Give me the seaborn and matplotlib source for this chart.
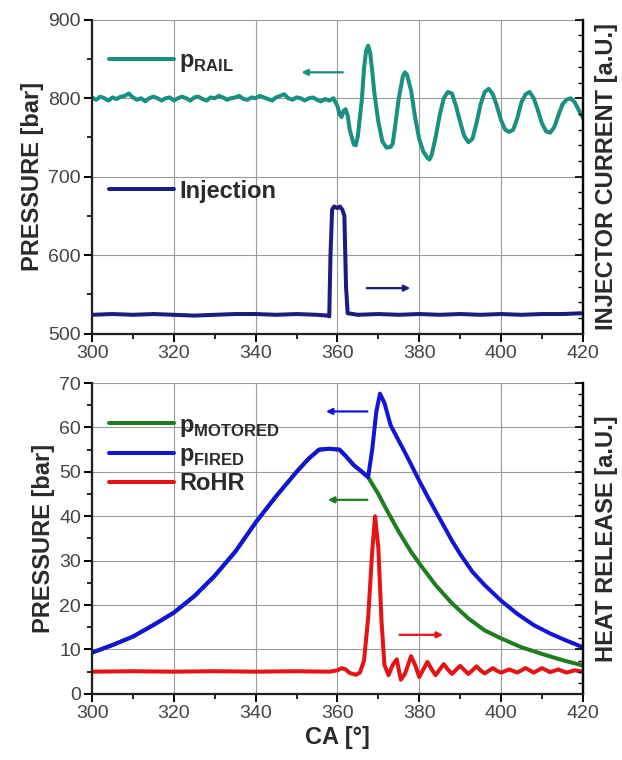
import numpy as np
import pandas as pd
import matplotlib
matplotlib.use("Agg")
import matplotlib.pyplot as plt
from matplotlib.ticker import MultipleLocator, NullFormatter
import seaborn as sns

# ---------------- data ----------------
rail_pre_ca = list(range(300, 359))
rail_pre_val = [801, 798, 802, 800, 797, 801, 799, 802, 803, 806, 801, 798, 800, 796, 800, 802,
                800, 797, 800, 801, 797, 800, 802, 800, 797, 801, 802, 799, 797, 801, 800, 803,
                801, 798, 800, 801, 803, 799, 798, 801, 800, 803, 801, 799, 797, 801, 803, 805,
                800, 798, 801, 800, 797, 800, 801, 798, 796, 799, 797]
rail_post_ca = [359, 360, 360.5, 361, 361.5, 362, 362.5, 363, 364, 364.5, 365, 366, 366.5, 367,
                367.5, 368, 368.5, 369, 370, 371, 372, 373, 373.5, 374, 375, 376, 376.5, 377,
                378, 379, 380, 381, 382, 382.5, 383, 384, 385, 386, 387, 388, 389, 390, 391,
                392, 393, 394, 395, 396, 397, 398, 399, 400, 401, 402, 403, 404, 405, 406,
                407, 408, 409, 410, 411, 412, 413, 414, 415, 416, 417, 418, 419, 420]
rail_post_val = [800, 790, 780, 776, 784, 786, 778, 760, 741, 740, 752, 800, 838, 860,
                 867, 858, 835, 808, 770, 745, 737, 738, 742, 760, 800, 828, 833, 830,
                 810, 775, 748, 732, 724, 722, 727, 750, 778, 800, 808, 806, 790, 770, 752,
                 744, 748, 768, 792, 808, 812, 805, 790, 772, 760, 757, 760, 775, 795, 805,
                 808, 800, 785, 768, 758, 756, 763, 778, 792, 798, 800, 795, 785, 775]
rail_ca = rail_pre_ca + rail_post_ca
rail_val = rail_pre_val + rail_post_val

inj_ca = [300, 305, 310, 315, 320, 325, 330, 335, 340, 345, 350, 355, 357.5, 358, 358.3,
          358.7, 359.2, 360, 360.6, 361.2, 361.7, 362.1, 362.5, 365, 370, 375, 380, 385,
          390, 395, 400, 405, 410, 415, 420]
inj_val = [524, 525, 524, 525, 524, 523, 524, 525, 525, 524, 525, 524, 523, 522, 600,
           658, 662, 660, 662, 658, 650, 560, 526, 524, 525, 524, 525, 524,
           525, 524, 525, 524, 525, 525, 526]

fired_ca = [300, 305, 310, 315, 320, 325, 330, 335, 340, 345, 350, 353, 355.5, 358, 360.5,
            362, 364, 366, 367.5, 368.5, 369.5, 370.4, 371.5, 373, 375, 377, 380, 382,
            385, 388, 390, 393, 396, 400, 404, 408, 412, 416, 420]
fired_val = [9.3, 11.0, 12.9, 15.5, 18.3, 22.0, 26.6, 32.0, 38.6, 44.5, 50.0, 53.0, 55.0, 55.2, 55.0,
             53.6, 51.5, 50.0, 48.8, 55.0, 63.5, 67.6, 65.5, 60.5, 57.0, 53.5, 48.0, 44.5,
             39.5, 34.5, 31.5, 27.5, 24.5, 21.0, 18.0, 15.5, 13.6, 12.0, 10.5]

motored_ca = [300, 305, 310, 315, 320, 325, 330, 335, 340, 345, 350, 353, 355.5, 358, 360.5,
              362, 364, 366, 367.5, 370, 372, 375, 378, 380, 384, 388, 392, 396, 400, 405,
              410, 415, 420]
motored_val = [9.3, 11.0, 12.9, 15.5, 18.3, 22.0, 26.6, 32.0, 38.6, 44.5, 50.0, 53.0, 55.0, 55.2, 55.0,
               53.6, 51.5, 50.0, 48.8, 45.0, 41.5, 36.5, 32.0, 29.4, 24.5, 20.4, 17.0, 14.3, 12.5,
               10.5, 9.0, 7.6, 6.4]

rohr_ca = [300, 310, 320, 330, 340, 350, 358, 360, 361, 362, 363, 364.5, 365.5, 366.5, 367.5,
           368.5, 369.2, 370, 370.8, 371.5, 372.5, 373.5, 374.5, 375.5, 376.5, 378, 379, 380,
           381, 382, 383, 384, 385, 386, 387, 388, 389, 390, 391, 392, 393, 394, 395, 396,
           397, 398, 399, 400, 402, 404, 406, 408, 410, 412, 414, 416, 418, 420]
rohr_val = [5.0, 5.1, 5.0, 5.1, 5.0, 5.1, 5.0, 5.3, 5.8, 5.5, 4.7, 4.3, 4.8, 7.5, 17.0,
            32.0, 40.0, 33.0, 16.0, 6.5, 4.2, 6.5, 7.8, 3.2, 4.5, 8.5, 6.5, 3.8,
            5.5, 7.2, 5.6, 4.2, 5.5, 6.7, 5.5, 4.5, 5.4, 6.3, 5.4, 4.5, 5.3, 6.2, 5.3, 4.6,
            5.2, 5.8, 5.2, 4.8, 5.5, 4.8, 5.8, 4.8, 5.8, 4.9, 5.5, 4.8, 5.3, 5.0]

x_ticks = [300, 320, 340, 360, 380, 400, 420]

# ---------------- style ----------------
sns.set_theme(style="white")
plt.rcParams['font.family'] = ['Liberation Sans', 'DejaVu Sans']
plt.rcParams['mathtext.fontset'] = 'custom'
plt.rcParams['mathtext.bf'] = 'Liberation Sans:bold'
plt.rcParams['mathtext.rm'] = 'Liberation Sans'

C_RAIL = "#1a9080"
C_INJ = "#1c1c7e"
C_MOT = "#1e7d1e"
C_FIRED = "#1414d6"
C_RED = "#e41414"
LW = 2.9
TICK_C = "#444444"
LAB_C = "#2a2a2a"
LAB_FS = 17
LEG_FS = 17
TICK_FS = 14

fig = plt.figure(figsize=(6.22, 7.60), dpi=100)
ax1 = fig.add_axes([0.148, 0.561, 0.789, 0.413])
ax2 = fig.add_axes([0.148, 0.087, 0.789, 0.409])


def style_axes(ax, ymaj, ymin):
    ax.set_xlim(300, 420)
    ax.set_xticks(x_ticks)
    ax.xaxis.set_minor_locator(MultipleLocator(10))
    ax.yaxis.set_major_locator(MultipleLocator(ymaj))
    ax.yaxis.set_minor_locator(MultipleLocator(ymin))
    ax.grid(True, which="major", color="#9a9a9a", linewidth=0.8)
    ax.set_axisbelow(True)
    for s in ["left", "bottom", "right"]:
        ax.spines[s].set_visible(True)
        ax.spines[s].set_color("black")
        ax.spines[s].set_linewidth(1.6)
    ax.spines["top"].set_visible(False)
    ax.tick_params(which="major", direction="out", length=6, width=1.4, color="black",
                   labelsize=TICK_FS, labelcolor=TICK_C, left=True, bottom=True, pad=2)
    ax.tick_params(which="minor", direction="out", length=3.5, width=1.2, color="black",
                   left=True, bottom=True)


def style_twin(tw, lo, hi, maj, mnr):
    tw.set_ylim(lo, hi)
    tw.yaxis.set_major_locator(MultipleLocator(maj))
    tw.yaxis.set_minor_locator(MultipleLocator(mnr))
    tw.yaxis.set_major_formatter(NullFormatter())
    tw.grid(False)
    tw.spines["top"].set_visible(False)
    tw.spines["right"].set_linewidth(1.6)
    tw.spines["right"].set_color("black")
    tw.tick_params(which="major", direction="in", length=6, width=1.2, color="black", right=True)
    tw.tick_params(which="minor", direction="in", length=3.5, width=1.0, color="black", right=True)


def leg(ax, anchor, spacing=0.5):
    lg = ax.legend(loc="upper left", bbox_to_anchor=anchor, frameon=False, handlelength=2.75,
                   handletextpad=0.25, labelspacing=spacing,
                   prop={"weight": "bold", "size": LEG_FS}, borderaxespad=0.3)
    for t in lg.get_texts():
        t.set_color(LAB_C)
    return lg


# ---------------- top panel ----------------
style_axes(ax1, 100, 50)
ax1.set_ylim(500, 900)
tw1 = ax1.twinx()
style_twin(tw1, 500, 900, 100, 20)

df_rail = pd.DataFrame({"CA": rail_ca, "p": rail_val})
df_inj = pd.DataFrame({"CA": inj_ca, "i": inj_val})
sns.lineplot(data=df_rail, x="CA", y="p", ax=ax1, color=C_RAIL, lw=LW, sort=False,
             label=r"$\mathbf{p}_{\mathbf{RAIL}}$")
sns.lineplot(data=df_inj, x="CA", y="i", ax=tw1, color=C_INJ, lw=LW, sort=False,
             label="Injection")

ax1.set_xlabel("")
ax1.set_ylabel("PRESSURE [bar]", fontsize=LAB_FS, fontweight="bold", color=LAB_C, labelpad=3)
tw1.set_ylabel("INJECTOR CURRENT [a.U.]", fontsize=LAB_FS, fontweight="bold", color=LAB_C, labelpad=5)

leg(ax1, (0.0, 0.96))
leg(tw1, (0.0, 0.543))

ax1.annotate("", xy=(350.5, 833), xytext=(362, 833),
             arrowprops=dict(arrowstyle="-|>", color=C_RAIL, lw=1.6, mutation_scale=9))
tw1.annotate("", xy=(378.5, 558), xytext=(366.5, 558),
             arrowprops=dict(arrowstyle="-|>", color=C_INJ, lw=1.6, mutation_scale=9))

# ---------------- bottom panel ----------------
style_axes(ax2, 10, 5)
ax2.set_ylim(0, 70)
tw2 = ax2.twinx()
style_twin(tw2, 0, 70, 10, 2.5)

df_mot = pd.DataFrame({"CA": motored_ca, "p": motored_val})
df_fired = pd.DataFrame({"CA": fired_ca, "p": fired_val})
df_rohr = pd.DataFrame({"CA": rohr_ca, "q": rohr_val})
sns.lineplot(data=df_mot, x="CA", y="p", ax=ax2, color=C_MOT, lw=LW, sort=False,
             label=r"$\mathbf{p}_{\mathbf{MOTORED}}$")
sns.lineplot(data=df_fired, x="CA", y="p", ax=ax2, color=C_FIRED, lw=LW, sort=False,
             label=r"$\mathbf{p}_{\mathbf{FIRED}}$")
sns.lineplot(data=df_rohr, x="CA", y="q", ax=ax2, color=C_RED, lw=LW, sort=False,
             label="RoHR")

ax2.set_xlabel("CA [°]", fontsize=LAB_FS, fontweight="bold", color=LAB_C, labelpad=3)
ax2.set_ylabel("PRESSURE [bar]", fontsize=LAB_FS, fontweight="bold", color=LAB_C, labelpad=3)
tw2.set_ylabel("HEAT RELEASE [a.U.]", fontsize=LAB_FS, fontweight="bold", color=LAB_C, labelpad=5)

leg(ax2, (0.0, 0.955), spacing=0.18)

ax2.annotate("", xy=(356.5, 63.6), xytext=(368, 63.6),
             arrowprops=dict(arrowstyle="-|>", color=C_FIRED, lw=1.6, mutation_scale=9))
ax2.annotate("", xy=(357, 43.7), xytext=(368, 43.7),
             arrowprops=dict(arrowstyle="-|>", color=C_MOT, lw=1.6, mutation_scale=9))
ax2.annotate("", xy=(386.5, 13.3), xytext=(374.5, 13.3),
             arrowprops=dict(arrowstyle="-|>", color=C_RED, lw=1.6, mutation_scale=9))

fig.savefig("out.png", dpi=100)
